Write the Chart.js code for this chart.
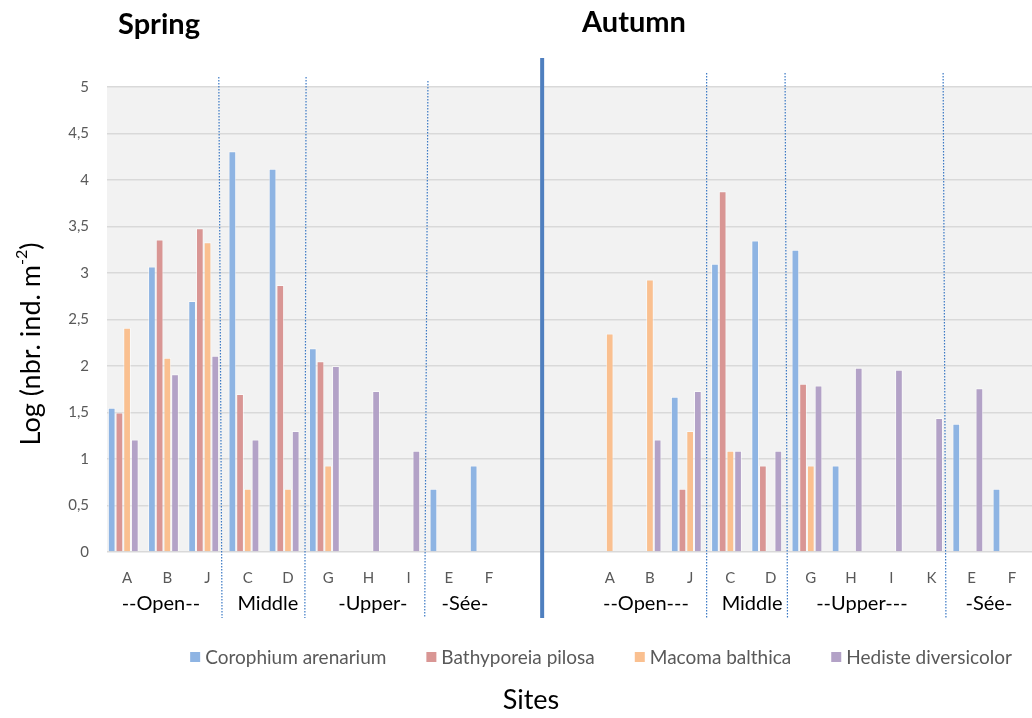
<!DOCTYPE html>
<html>
<head>
<meta charset="utf-8">
<script src="https://cdn.jsdelivr.net/npm/chart.js@4.4.1/dist/chart.umd.min.js"></script>
<style>
  html, body { margin: 0; padding: 0; background: #fff; overflow: hidden; }
  #wrap { position: relative; width: 1032px; height: 718px; }
</style>
</head>
<body>
<div id="wrap"><canvas id="c" width="1032" height="718"></canvas></div>
<script>
// Sites per season: spring (A..F), two blank slots, then autumn (A..F)
const categories = ['A','B','J','C','D','G','H','I','E','F','','','A','B','J','C','D','G','H','I','K','E','F'];

// Log (nbr. ind. m-2) per species and site
const corophium   = [1.55,3.07,2.70,4.31,4.12,2.19,0,0,0.68,0.93,null,null,0,0,1.67,3.10,3.35,3.25,0.93,0,0,1.38,0.68];
const bathyporeia = [1.50,3.36,3.48,1.70,2.87,2.05,0,0,0,0,null,null,0,0,0.68,3.88,0.93,1.81,0,0,0,0,0];
const macoma      = [2.41,2.09,3.33,0.68,0.68,0.93,0,0,0,0,null,null,2.35,2.93,1.30,1.09,0,0.93,0,0,0,0,0];
const hediste     = [1.21,1.91,2.11,1.21,1.30,2.00,1.73,1.09,0,0,null,null,0,1.21,1.73,1.09,1.09,1.79,1.98,1.96,1.44,1.76,0];

const seriesNames  = ['Corophium arenarium','Bathyporeia pilosa','Macoma balthica','Hediste diversicolor'];
const seriesColors = ['#8EB4E3','#D99694','#FAC090','#B3A2C7'];

const yMin = 0, yMax = 5, yStep = 0.5;

// Zone names under the site letters (centre given as a category position)
const zoneLabels = [
  { text: '--Open--',   at: 0.84 },
  { text: 'Middle',     at: 3.5 },
  { text: '-Upper-',    at: 6.11 },
  { text: '-Sée-',      at: 8.4 },
  { text: '--Open---',  at: 12.9 },
  { text: 'Middle',     at: 15.54 },
  { text: '--Upper---', at: 18.27 },
  { text: '-Sée-',      at: 21.43 }
];
// Dotted zone dividers: category position at top and bottom end
const zoneDividers = [
  [2.28, 2.36], [4.45, 4.42], [7.48, 7.40],
  [14.41, 14.41], [16.36, 16.42], [20.29, 20.36]
];
const seasonDivider = 10.32;

const FONT = 'Lato, "Open Sans", sans-serif';

// Four species bars per site; the fifth slot of each group stays empty
const blankSlot = categories.map(() => null);

const datasets = [corophium, bathyporeia, macoma, hediste].map((vals, i) => ({
  label: seriesNames[i],
  data: vals,
  backgroundColor: seriesColors[i],
  borderColor: 'rgba(255,255,255,0.55)',
  borderWidth: 1,
  categoryPercentage: 0.958,
  barPercentage: 1
}));
datasets.push({ label: '', data: blankSlot, backgroundColor: 'rgba(0,0,0,0)', categoryPercentage: 0.958, barPercentage: 1 });

function posX(scale, v) {
  const i = Math.floor(v);
  const a = scale.getPixelForValue(i);
  const b = scale.getPixelForValue(i + 1);
  return a + (b - a) * (v - i);
}

const decor = {
  id: 'decor',
  beforeDraw(chart) {
    const { ctx, chartArea: a } = chart;
    ctx.save();
    ctx.fillStyle = '#F2F2F2';
    ctx.fillRect(a.left, a.top, a.right - a.left, a.bottom - a.top);
    ctx.restore();
  },
  afterDraw(chart) {
    const { ctx, chartArea: a } = chart;
    const xs = chart.scales.x;
    ctx.save();

    // dotted zone dividers
    ctx.strokeStyle = '#3A78C4';
    ctx.lineWidth = 1.2;
    ctx.setLineDash([1.5, 1.5]);
    zoneDividers.forEach(([t, b], k) => {
      const top = k < 2 ? a.top - 10 : (k === 2 ? a.top - 6 : a.top - 14);
      ctx.beginPath();
      ctx.moveTo(posX(xs, t), top);
      ctx.lineTo(posX(xs, b), a.bottom + 66);
      ctx.stroke();
    });
    ctx.setLineDash([]);

    // season divider
    ctx.strokeStyle = '#4F7FBF';
    ctx.lineWidth = 4;
    const sx = posX(xs, seasonDivider);
    ctx.beginPath();
    ctx.moveTo(sx, a.top - 29);
    ctx.lineTo(sx, a.bottom + 66);
    ctx.stroke();

    // season titles
    ctx.fillStyle = '#000';
    ctx.textBaseline = 'alphabetic';
    ctx.textAlign = 'left';
    ctx.font = 'bold 29px ' + FONT;
    ctx.fillText('Spring', 118, 34);
    ctx.fillText('Autumn', 582, 32);

    // zone names
    ctx.font = '20px ' + FONT;
    ctx.textAlign = 'center';
    ctx.textBaseline = 'middle';
    zoneLabels.forEach(z => ctx.fillText(z.text, posX(xs, z.at), a.bottom + 52));

    // legend
    ctx.font = '19px ' + FONT;
    ctx.textAlign = 'left';
    const box = 10, gapText = 5, gapItem = 40;
    const widths = seriesNames.map(n => ctx.measureText(n).width);
    const total = widths.reduce((s, w) => s + box + gapText + w, 0) + gapItem * (seriesNames.length - 1);
    let lx = 601 - total / 2;
    const ly = 657;
    seriesNames.forEach((n, i) => {
      ctx.fillStyle = seriesColors[i];
      ctx.fillRect(lx, ly - box / 2, box, box);
      ctx.fillStyle = '#595959';
      ctx.fillText(n, lx + box + gapText, ly + 1);
      lx += box + gapText + widths[i] + gapItem;
    });

    // axis titles
    ctx.fillStyle = '#000';
    ctx.font = '27px ' + FONT;
    ctx.textAlign = 'center';
    ctx.fillText('Sites', 531, 700);

    ctx.translate(31, 344);
    ctx.rotate(-Math.PI / 2);
    const main = 'Log (nbr. ind. m';
    const sup = '-2';
    const tail = ')';
    ctx.font = '27px ' + FONT;
    const wMain = ctx.measureText(main).width;
    const wTail = ctx.measureText(tail).width;
    ctx.font = '16px ' + FONT;
    const wSup = ctx.measureText(sup).width;
    let tx = -(wMain + wSup + wTail) / 2;
    ctx.textAlign = 'left';
    ctx.font = '27px ' + FONT;
    ctx.fillText(main, tx, 0);
    tx += wMain;
    ctx.font = '16px ' + FONT;
    ctx.fillText(sup, tx, -9);
    tx += wSup;
    ctx.font = '27px ' + FONT;
    ctx.fillText(tail, tx, 0);
    ctx.restore();
  }
};

new Chart(document.getElementById('c'), {
  type: 'bar',
  data: { labels: categories, datasets },
  options: {
    responsive: false,
    animation: false,
    events: [],
    layout: { padding: { top: 87, left: 0, right: 0, bottom: 0 } },
    plugins: { legend: { display: false }, tooltip: { enabled: false } },
    scales: {
      x: {
        grid: { display: false },
        border: { display: false },
        ticks: { color: '#595959', font: { family: FONT, size: 15 }, padding: 9, autoSkip: false, maxRotation: 0 },
        afterFit(s) { s.height = 166; }
      },
      y: {
        min: yMin, max: yMax,
        ticks: {
          stepSize: yStep,
          color: '#595959',
          font: { family: FONT, size: 15 },
          padding: 18,
          callback: v => String(v).replace('.', ',')
        },
        grid: { color: '#D9D9D9', lineWidth: 1.5, drawTicks: false },
        border: { display: false },
        afterFit(s) { s.width = 107; }
      }
    }
  },
  plugins: [decor]
});
</script>
</body>
</html>
